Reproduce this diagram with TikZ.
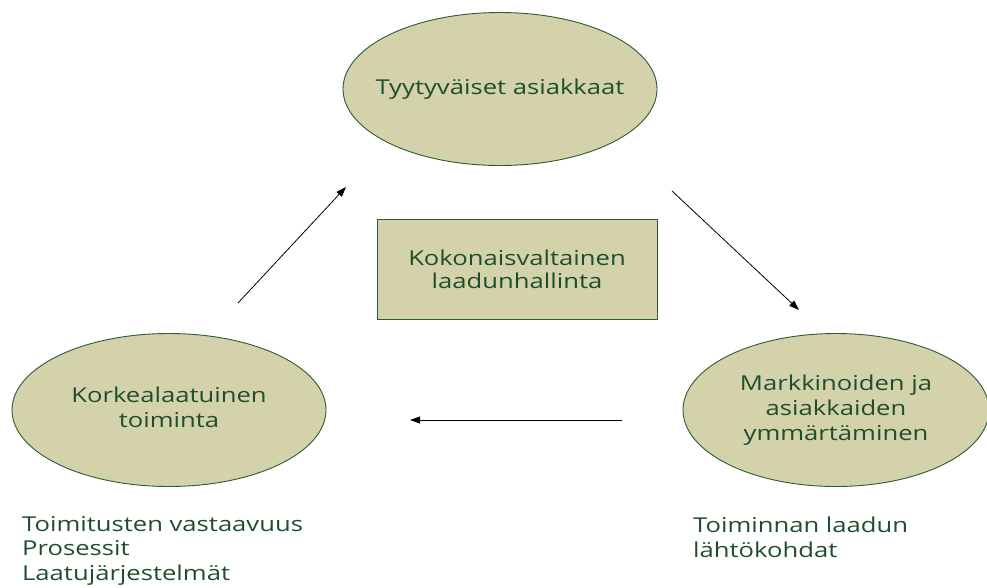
\documentclass[tikz,border=0pt]{standalone}
\usepackage{fontspec}
\setmainfont{Open Sans}[FakeStretch=1.25]
\usetikzlibrary{shapes.geometric,arrows.meta}
\definecolor{olivefill}{RGB}{211,210,170}
\definecolor{darkgreen}{RGB}{31,78,44}
\definecolor{edgegreen}{RGB}{45,90,55}
% centred lines in a zero-width box, so the ellipse keeps its given size
\newcommand{\ctext}[1]{\makebox[0pt][c]{\begin{tabular}{@{}c@{}}#1\end{tabular}}}
\tikzset{
  bubble/.style={ellipse, draw=edgegreen, line width=0.9pt, fill=olivefill,
    text=darkgreen, inner sep=0pt, minimum height=153pt,
    font=\fontsize{20.5}{25}\selectfont},
  centerbox/.style={rectangle, draw=edgegreen, line width=0.9pt, fill=olivefill,
    text=darkgreen, align=center, inner sep=0pt,
    minimum width=280pt, minimum height=100pt,
    font=\fontsize{20.5}{23}\selectfont},
  note/.style={text=darkgreen, align=left, inner sep=0pt, anchor=north west,
    font=\fontsize{20.5}{24.5}\selectfont},
  flow/.style={line width=0.8pt, -{Triangle[length=10pt,width=7pt]}}
}
\begin{document}
\begin{tikzpicture}[x=1pt,y=-1pt]
  \path[use as bounding box] (0,0) rectangle (987,587);

  % three stages of the cycle
  \node[bubble, minimum width=314pt] (asiakkaat) at (500,89)
    {\ctext{Tyytyväiset asiakkaat}};
  \node[bubble, minimum width=314pt] (toiminta) at (169,410)
    {\ctext{Korkealaatuinen\\toiminta}};
  \node[bubble, minimum width=306pt] (markkinat) at (836,410)
    {\ctext{Markkinoiden ja\\asiakkaiden\\ymmärtäminen}};

  % centre box
  \node[centerbox] (tqm) at (517,269) {Kokonaisvaltainen\\laadunhallinta};

  % side notes
  \node[note] (notevasen) at (22,516)
    {Toimitusten vastaavuus\\Prosessit\\Laatujärjestelmät};
  \node[note] (noteoikea) at (693,517)
    {Toiminnan laadun\\lähtökohdat};

  % arrow end points
  \coordinate (a1s) at (238,303);
  \coordinate (a1e) at (346,187);
  \coordinate (a2s) at (672,191);
  \coordinate (a2e) at (799,310);
  \coordinate (a3s) at (622,420);
  \coordinate (a3e) at (410,420);

  \draw[flow] (a1s) -- (a1e);
  \draw[flow] (a2s) -- (a2e);
  \draw[flow] (a3s) -- (a3e);
\end{tikzpicture}
\end{document}
